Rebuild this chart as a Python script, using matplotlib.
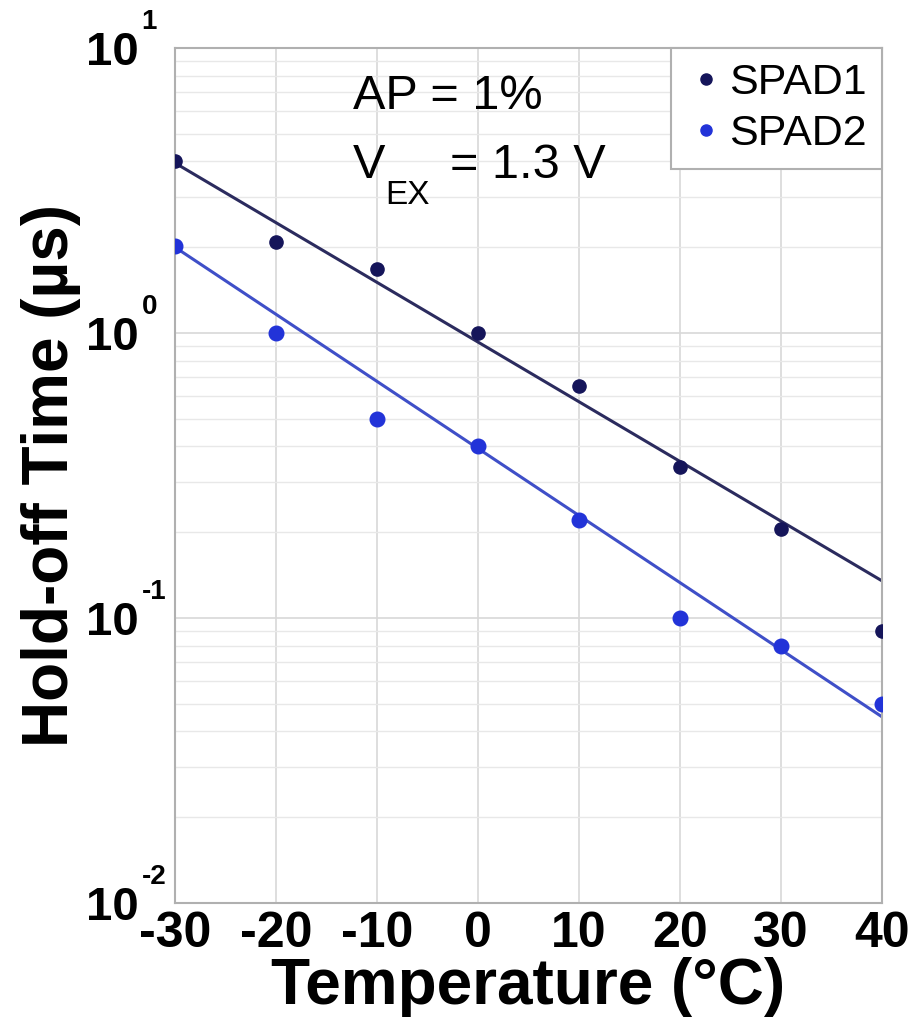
import matplotlib
matplotlib.use('Agg')
import matplotlib.pyplot as plt
import numpy as np

# temperatures (°C) and hold-off times (µs)
temps = [-30, -20, -10, 0, 10, 20, 30, 40]
spad1 = [4.0, 2.08, 1.68, 1.0, 0.65, 0.34, 0.205, 0.09]
spad2 = [2.02, 1.0, 0.50, 0.40, 0.22, 0.10, 0.08, 0.05]

# fitted line end points
fit_t = [-30, 40]
fit1 = [3.95, 0.135]
fit2 = [2.0, 0.045]

xticks = [-30, -20, -10, 0, 10, 20, 30, 40]
yticks = [1e-2, 1e-1, 1e0, 1e1]
yexp = ['-2', '-1', '0', '1']

plt.rcParams['font.family'] = ['Liberation Sans', 'DejaVu Sans']

fig, ax = plt.subplots(figsize=(9.19, 10.21), dpi=100)
fig.subplots_adjust(left=0.1904, right=0.9597, top=0.953, bottom=0.1156)

c1 = '#15155a'
c2 = '#2233d8'

ax.plot(fit_t, fit1, color='#2b2b5e', lw=2.2, zorder=2)
ax.plot(fit_t, fit2, color='#3f4fc8', lw=2.2, zorder=2)
ax.plot(temps, spad1, 'o', color=c1, ms=9.5, label='SPAD1', zorder=3)
ax.plot(temps, spad2, 'o', color=c2, ms=10.5, label='SPAD2', zorder=3)

ax.set_yscale('log')
ax.set_ylim(1e-2, 1e1)
ax.set_xlim(-30, 40)
ax.set_xticks(xticks)
ax.set_xticklabels([str(t) for t in xticks])
ax.set_yticks(yticks)
ax.set_yticklabels(['10'] * len(yticks))

ax.grid(True, which='major', color='#d8d8d8', lw=1.2)
ax.grid(True, which='minor', axis='y', color='#e8e8e8', lw=1.0)
for s in ax.spines.values():
    s.set_color('#b0b0b0')
    s.set_linewidth(1.5)
ax.tick_params(which='both', length=0)
ax.tick_params(axis='x', labelsize=36, pad=6)
ax.tick_params(axis='y', labelsize=34, pad=26)
for lab in ax.get_xticklabels() + ax.get_yticklabels():
    lab.set_fontweight('bold')

# exponents of the y tick labels
for v, e in zip(yticks, yexp):
    ax.annotate(e, xy=(0, v), xycoords=ax.get_yaxis_transform(),
                xytext=(-24, 19), textcoords='offset points',
                fontsize=20, fontweight='bold', ha='left', va='center',
                annotation_clip=False)

ax.set_xlabel('Temperature (°C)', fontsize=46, fontweight='bold', labelpad=0)
ax.set_ylabel('Hold-off Time (µs)', fontsize=46, fontweight='bold')
ax.yaxis.set_label_coords(-0.133, 0.5)

ax.text(0.252, 0.943, 'AP = 1%', transform=ax.transAxes, fontsize=35,
        va='center', ha='left')
ax.annotate('V', xy=(0.252, 0.863), xycoords='axes fraction',
            fontsize=35, va='center', ha='left')
ax.annotate('EX', xy=(0.252, 0.863), xycoords='axes fraction',
            xytext=(23, -22), textcoords='offset points',
            fontsize=24, va='center', ha='left')
ax.annotate('= 1.3 V', xy=(0.252, 0.863), xycoords='axes fraction',
            xytext=(70, 0), textcoords='offset points',
            fontsize=35, va='center', ha='left')

leg = ax.legend(loc='upper right', bbox_to_anchor=(1.0, 1.0), fontsize=31,
                handletextpad=0.1, handlelength=0.9, borderpad=0.35,
                labelspacing=0.25, fancybox=False, framealpha=1,
                borderaxespad=0.0)
leg.get_frame().set_edgecolor('#b0b0b0')
leg.get_frame().set_linewidth(1.5)
for h in leg.legend_handles:
    h.set_markersize(8)

fig.savefig('out.png', dpi=100)
